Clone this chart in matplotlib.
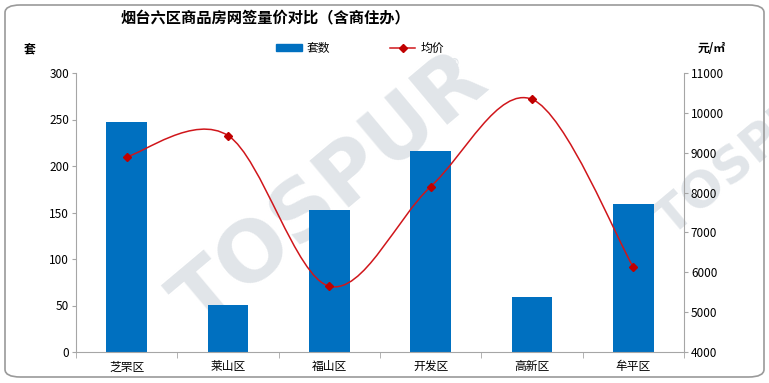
import matplotlib; matplotlib.use("Agg")
import matplotlib.pyplot as plt
import numpy as np
from matplotlib.path import Path
from matplotlib.patches import PathPatch, FancyBboxPatch
from matplotlib.lines import Line2D

plt.rcParams['font.family'] = ['Noto Sans CJK SC', 'DejaVu Sans']

districts = ["芝罘区", "莱山区", "福山区", "开发区", "高新区", "牟平区"]
units = [247, 51, 153, 216, 59, 159]
avg_price = [8900, 9430, 5650, 8150, 10340, 6130]

BLUE = "#0070C0"; RED = "#D0161B"; GRID = "#A6A6A6"; WM = "#e1e5e9"

fig = plt.figure(figsize=(7.69, 3.83), dpi=100)
W, H = 769, 383
ax = fig.add_axes([76/W, 1-352/H, (684-76)/W, (352-73)/H])
ax2 = ax.twinx()

# rounded chart border
fig.patches.append(FancyBboxPatch((5/W, 6/H), 759/W, 372/H, boxstyle="round,pad=0,rounding_size=0.02",
                                  transform=fig.transFigure, fill=False, ec="#9a9a9a", lw=1.2))

# watermark, behind everything
fig.text(0.43, 0.5, "TOSPUR", rotation=40, fontsize=60, fontweight="bold", color=WM,
         ha="center", va="center", family="DejaVu Sans", zorder=-5)
fig.text(0.975, 0.6, "TOSPUR", rotation=40, fontsize=36, fontweight="bold", color=WM,
         ha="center", va="center", family="DejaVu Sans", zorder=-5)
fig.text(0.59, 0.82, "®", fontsize=14, color=WM, ha="center", va="center", zorder=-5)

x = np.arange(len(districts))
ax.bar(x, units, width=0.4, color=BLUE, zorder=2)
ax.set_xlim(-0.5, len(districts)-0.5)
ax.set_ylim(0, 300); ax.set_yticks(range(0, 301, 50))
ax2.set_ylim(4000, 11000); ax2.set_yticks(range(4000, 11001, 1000))
ax.patch.set_alpha(0); ax2.patch.set_alpha(0)

# smoothed line (Excel-like bezier)
pts = list(zip(x.astype(float), avg_price))
verts = [pts[0]]; codes = [Path.MOVETO]
for i in range(len(pts)-1):
    p0 = pts[max(i-1, 0)]; p1 = pts[i]; p2 = pts[i+1]; p3 = pts[min(i+2, len(pts)-1)]
    c1 = (p1[0]+(p2[0]-p0[0])/6, p1[1]+(p2[1]-p0[1])/6)
    c2 = (p2[0]-(p3[0]-p1[0])/6, p2[1]-(p3[1]-p1[1])/6)
    verts += [c1, c2, p2]; codes += [Path.CURVE4]*3
ax2.add_patch(PathPatch(Path(verts, codes), fill=False, ec=RED, lw=1.1, zorder=3))
ax2.plot(x, avg_price, ls="none", marker="D", ms=4, color="#C00000", zorder=4)

ax.set_xticks(x); ax.set_xticklabels(districts, fontsize=8.5)
ax.set_xticks(np.arange(-0.5, len(districts)), minor=True)
ax.tick_params(axis="x", which="major", length=0, pad=6)
ax.tick_params(axis="x", which="minor", length=4, color=GRID, direction="out")
ax.tick_params(axis="y", length=3, color=GRID, labelsize=8.5, pad=2)
ax2.tick_params(axis="y", length=3, color=GRID, labelsize=8.5, pad=2)
for a in (ax, ax2):
    a.spines["top"].set_visible(False)
    for s in ("left", "right", "bottom"): a.spines[s].set_color(GRID)
ax2.spines["left"].set_visible(False); ax2.spines["bottom"].set_visible(False)
ax.spines["right"].set_visible(False)

fig.text(265/W, 1-17/H, "烟台六区商品房网签量价对比（含商住办）", fontsize=11, fontweight="bold",
         ha="center", va="center")
fig.text(30/W, 1-49/H, "套", fontsize=8.5, fontweight="bold", ha="center", va="center")
fig.text(712/W, 1-48/H, "元/㎡", fontsize=8.5, fontweight="bold", ha="center", va="center")

handles = [plt.Rectangle((0, 0), 1, 1, color=BLUE),
           Line2D([], [], color=RED, lw=1.1, marker="D", ms=4, mfc="#C00000", mec="#C00000")]
fig.legend(handles, ["套数", "均价"], loc="center", bbox_to_anchor=(360/W, 1-48/H), ncol=2,
           frameon=False, fontsize=8.5, handlelength=2.2, handleheight=0.6, columnspacing=5,
           handletextpad=0.4)

fig.savefig("out.png", dpi=100)
